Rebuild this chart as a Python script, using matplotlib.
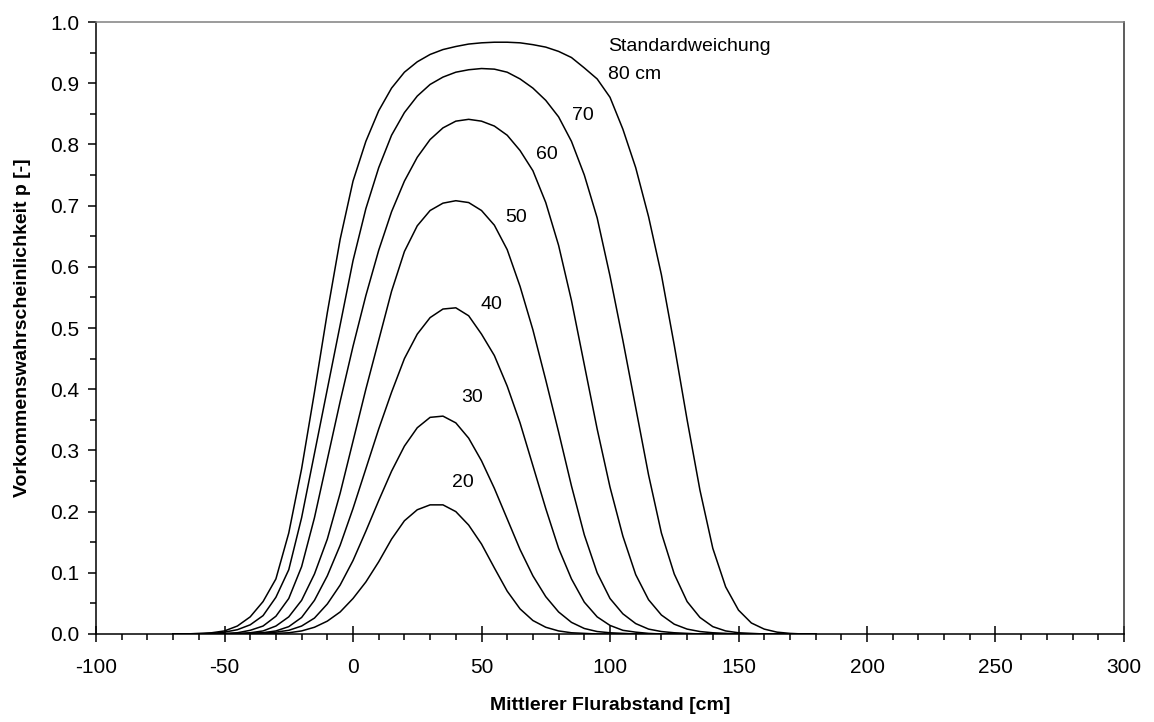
# Vorkommenswahrscheinlichkeit in Abhaengigkeit vom mittleren Flurabstand
import matplotlib.pyplot as plt
from matplotlib.ticker import MultipleLocator

plt.rcParams['font.family'] = ['Liberation Sans', 'DejaVu Sans']
plt.rcParams['axes.unicode_minus'] = False

# mittlerer Flurabstand [cm], Stuetzstellen alle 5 cm (-70 ... 180)
abstand = list(range(-70, 185, 5))

# Standardweichung [cm]
stdabw = [20, 30, 40, 50, 60, 70, 80]

# Vorkommenswahrscheinlichkeit p je Standardweichung
p_20 = [0, 0, 0, 0, 0, 0, 0, 0, 0.001, 0.002, 0.005, 0.011, 0.021, 0.036, 0.058,
        0.085, 0.118, 0.155, 0.185, 0.203, 0.211, 0.211, 0.200, 0.178, 0.147, 0.108,
        0.070, 0.041, 0.022, 0.011, 0.005, 0.002, 0.001, 0, 0, 0, 0, 0, 0, 0, 0,
        0, 0, 0, 0, 0, 0, 0, 0, 0, 0]
p_30 = [0, 0, 0, 0, 0, 0, 0.001, 0.002, 0.003, 0.006, 0.013, 0.026, 0.049, 0.080, 0.120,
        0.168, 0.218, 0.266, 0.307, 0.337, 0.354, 0.356, 0.345, 0.320, 0.283, 0.238,
        0.188, 0.138, 0.095, 0.061, 0.036, 0.019, 0.009, 0.004, 0.002, 0.001, 0, 0, 0, 0, 0,
        0, 0, 0, 0, 0, 0, 0, 0, 0, 0]
p_40 = [0, 0, 0, 0, 0, 0, 0.001, 0.002, 0.005, 0.012, 0.027, 0.055, 0.095, 0.145, 0.205,
        0.270, 0.335, 0.395, 0.450, 0.490, 0.517, 0.531, 0.533, 0.520, 0.490, 0.455,
        0.405, 0.345, 0.275, 0.205, 0.140, 0.090, 0.052, 0.028, 0.014, 0.006, 0.003, 0.001, 0, 0, 0,
        0, 0, 0, 0, 0, 0, 0, 0, 0, 0]
p_50 = [0, 0, 0, 0, 0, 0.001, 0.002, 0.005, 0.013, 0.028, 0.055, 0.098, 0.155, 0.230, 0.315,
        0.400, 0.480, 0.560, 0.625, 0.667, 0.692, 0.704, 0.708, 0.705, 0.692, 0.668,
        0.628, 0.568, 0.497, 0.415, 0.330, 0.242, 0.162, 0.100, 0.058, 0.033, 0.017, 0.008, 0.004, 0.002, 0.001,
        0, 0, 0, 0, 0, 0, 0, 0, 0, 0]
p_60 = [0, 0, 0, 0, 0.001, 0.002, 0.006, 0.013, 0.029, 0.058, 0.110, 0.190, 0.285, 0.380, 0.470,
        0.553, 0.627, 0.690, 0.740, 0.779, 0.808, 0.827, 0.838, 0.841, 0.838, 0.830,
        0.815, 0.790, 0.757, 0.705, 0.635, 0.545, 0.440, 0.335, 0.240, 0.160, 0.097, 0.056, 0.031, 0.016, 0.008,
        0.004, 0.002, 0.001, 0, 0, 0, 0, 0, 0, 0]
p_70 = [0, 0, 0, 0.001, 0.003, 0.007, 0.015, 0.030, 0.060, 0.105, 0.190, 0.295, 0.400, 0.505, 0.610,
        0.695, 0.762, 0.815, 0.852, 0.879, 0.898, 0.910, 0.918, 0.922, 0.924, 0.923,
        0.918, 0.907, 0.892, 0.872, 0.845, 0.805, 0.750, 0.680, 0.585, 0.480, 0.370, 0.260, 0.165, 0.098, 0.053,
        0.027, 0.012, 0.005, 0.002, 0.001, 0, 0, 0, 0, 0]
p_80 = [0, 0, 0.001, 0.002, 0.005, 0.013, 0.028, 0.053, 0.090, 0.165, 0.270, 0.395, 0.525, 0.645, 0.740,
        0.805, 0.855, 0.892, 0.918, 0.935, 0.947, 0.955, 0.960, 0.964, 0.966, 0.967,
        0.967, 0.966, 0.963, 0.959, 0.952, 0.942, 0.925, 0.907, 0.877, 0.825, 0.762, 0.682, 0.587, 0.472, 0.350,
        0.235, 0.140, 0.077, 0.039, 0.018, 0.008, 0.003, 0.001, 0, 0]

kurven = [p_20, p_30, p_40, p_50, p_60, p_70, p_80]

# Beschriftung der Kurven (Position in Datenkoordinaten)
beschr_x = [42.6, 46.5, 53.9, 63.6, 75.3, 89.3]
beschr_y = [0.247, 0.386, 0.538, 0.680, 0.783, 0.848]

fig = plt.figure(figsize=(11.54, 7.22), dpi=100)
ax = fig.add_axes([0.0832, 0.1219, 0.8908, 0.8476])

for werte in kurven:
    ax.plot(abstand, werte, color='black', linewidth=1.1)

for i in range(len(beschr_x)):
    ax.text(beschr_x[i], beschr_y[i], str(stdabw[i]), fontsize=14,
            ha='center', va='center')
ax.text(99.3, 0.960, "Standardweichung", fontsize=14, ha='left', va='center')
ax.text(99.3, 0.915, "80 cm", fontsize=14, ha='left', va='center')

ax.set_xlim(-100, 300)
ax.set_ylim(0, 1.0)
ax.xaxis.set_major_locator(MultipleLocator(50))
ax.xaxis.set_minor_locator(MultipleLocator(10))
ax.yaxis.set_major_locator(MultipleLocator(0.1))
ax.yaxis.set_minor_locator(MultipleLocator(0.05))
ax.yaxis.set_major_formatter(lambda v, pos: "%.1f" % v)

ax.tick_params(axis='x', which='major', direction='inout', length=11, width=1.1,
               labelsize=15, pad=12)
ax.tick_params(axis='x', which='minor', direction='out', length=4.5, width=1.1)
ax.tick_params(axis='y', which='major', direction='out', length=6, width=1.1,
               labelsize=15, pad=6)
ax.tick_params(axis='y', which='minor', direction='out', length=4.5, width=1.1)

ax.spines['left'].set_linewidth(1.1)
ax.spines['bottom'].set_linewidth(1.1)
ax.spines['top'].set_color('#808080')
ax.spines['top'].set_linewidth(1.1)
ax.spines['right'].set_color('#303030')
ax.spines['right'].set_linewidth(1.1)

ax.set_xlabel("Mittlerer Flurabstand [cm]", fontsize=14, fontweight='bold', labelpad=14)
ax.set_ylabel("Vorkommenswahrscheinlichkeit p [-]", fontsize=14, fontweight='bold', labelpad=14)

fig.savefig("out.png", dpi=100)
